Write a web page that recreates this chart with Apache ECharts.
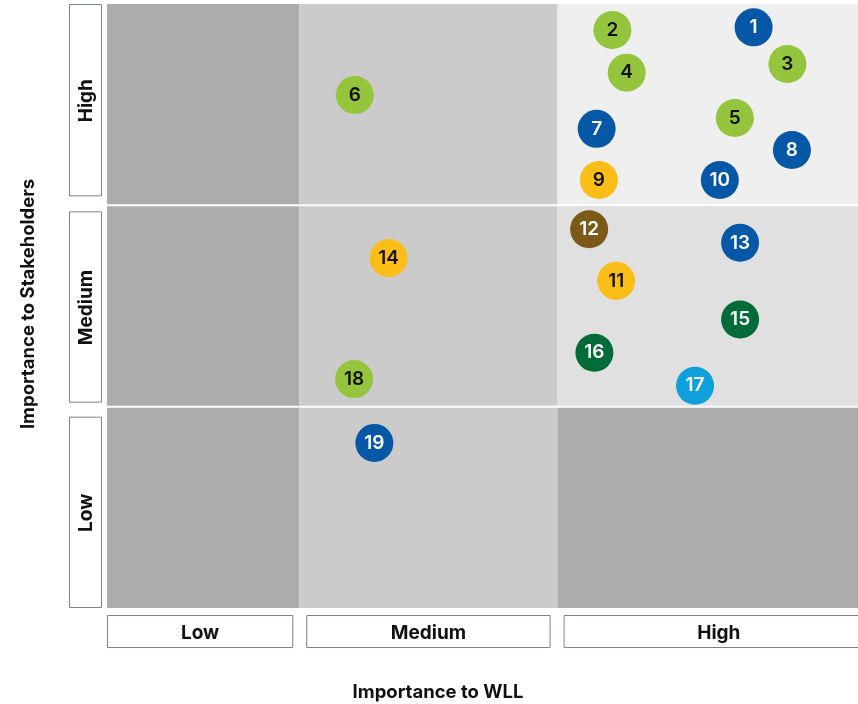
<!DOCTYPE html>
<html>
<head>
<meta charset="utf-8">
<script src="https://cdn.jsdelivr.net/npm/echarts@6/dist/echarts.min.js"></script>
<style>
  html, body { margin: 0; padding: 0; background: #ffffff; }
  #chart { width: 858px; height: 704px; }
</style>
</head>
<body>
<div id="chart"></div>
<script>
// Materiality matrix: importance to WLL (x) against importance to stakeholders (y)

// Level names, shared by both axes (low -> high)
const levels = ['Low', 'Medium', 'High'];
// Band boundaries on each axis (value units)
const xBreaks = [0, 25.6, 60, 100];
const yBreaks = [0, 1, 2, 3];

// Topics
const topicIds = [1, 2, 3, 4, 5, 6, 7, 8, 9, 10, 11, 12, 13, 14, 15, 16, 17, 18, 19];
const wllScore = [86.1, 67.3, 90.6, 69.2, 83.6, 33.0, 65.2, 91.2, 65.5, 81.6, 67.8, 64.2, 84.3, 37.5, 84.3, 64.9, 78.3, 32.9, 35.6];
const stakeScore = [2.884, 2.871, 2.702, 2.659, 2.434, 2.548, 2.380, 2.275, 2.126, 2.126, 1.625, 1.881, 1.814, 1.738, 1.433, 1.268, 1.104, 1.137, 0.820];
const topicGroup = ['blue', 'lime', 'lime', 'lime', 'lime', 'lime', 'blue', 'blue', 'amber', 'blue',
                    'amber', 'brown', 'blue', 'amber', 'forest', 'forest', 'sky', 'lime', 'blue'];

// Group fills and the number colour drawn on them
const groupFill = { blue: '#0657a6', lime: '#95c43d', amber: '#fbbd17', brown: '#7b5916', forest: '#036b37', sky: '#0fa0dc' };
const groupInk = { blue: '#ffffff', lime: '#111111', amber: '#111111', brown: '#ffffff', forest: '#ffffff', sky: '#ffffff' };

// Cell shading [row][col], rows low -> high, cols low -> high
const cellShade = [
  ['#acacac', '#cbcbcb', '#acacac'],
  ['#acacac', '#cbcbcb', '#e0e0e0'],
  ['#acacac', '#cbcbcb', '#efefef']
];

const FONT = 'Inter, Roboto, "Liberation Sans", sans-serif';

const cells = [];
for (let r = 0; r < 3; r++) for (let c = 0; c < 3; c++) cells.push([c, r]);

// Label-box insets (px) from their band edges
const yBoxInset = [[10, 1], [6, 5], [0, 10]];   // [top, bottom] per row
const xBoxInset = [[0, 6], [7, 7], [6, -16]];   // [left, right] per column; last box runs past the edge

const chart = echarts.init(document.getElementById('chart'), null, { renderer: 'canvas' });

chart.setOption({
  animation: false,
  backgroundColor: '#ffffff',
  grid: { left: 107, right: 0, top: 4, bottom: 96 },
  xAxis: { type: 'value', min: 0, max: 100, show: false },
  yAxis: { type: 'value', min: 0, max: 3, show: false },
  graphic: [
    {
      type: 'text', x: 438, y: 692,
      style: { text: 'Importance to WLL', font: 'bold 18.5px ' + FONT, fill: '#111111', align: 'center', verticalAlign: 'middle' }
    },
    {
      type: 'text', x: 28, y: 304, rotation: Math.PI / 2,
      style: { text: 'Importance to Stakeholders', font: 'bold 18.5px ' + FONT, fill: '#111111', align: 'center', verticalAlign: 'middle' }
    }
  ],
  series: [
    {
      // shaded bands
      type: 'custom',
      silent: true,
      z: 1,
      data: cells,
      renderItem: function (params, api) {
        const c = api.value(0), r = api.value(1);
        const tl = api.coord([xBreaks[c], yBreaks[r + 1]]);
        const br = api.coord([xBreaks[c + 1], yBreaks[r]]);
        const top = tl[1] + (r < 2 ? 1 : 0);
        const bottom = br[1] - (r > 0 ? 1 : 0);
        return {
          type: 'rect',
          shape: { x: tl[0], y: top, width: br[0] - tl[0], height: bottom - top },
          style: { fill: cellShade[r][c] }
        };
      }
    },
    {
      // y level boxes
      type: 'custom',
      silent: true,
      clip: false,
      z: 2,
      data: levels.map(function (_, i) { return [i]; }),
      renderItem: function (params, api) {
        const r = api.value(0);
        const top = api.coord([0, yBreaks[r + 1]])[1] + yBoxInset[r][0];
        const bottom = api.coord([0, yBreaks[r]])[1] - yBoxInset[r][1];
        const left = api.coord([0, 0])[0] - 38;
        const w = 32;
        return {
          type: 'group',
          children: [
            { type: 'rect', shape: { x: left + 0.5, y: top + 0.5, width: w, height: bottom - top },
              style: { fill: '#ffffff', stroke: '#74859a', lineWidth: 1 } },
            { type: 'text', x: left + w / 2 + 1, y: (top + bottom) / 2 + 1, rotation: Math.PI / 2,
              style: { text: levels[r], font: 'bold 19px ' + FONT, fill: '#111111', align: 'center', verticalAlign: 'middle' } }
          ]
        };
      }
    },
    {
      // x level boxes
      type: 'custom',
      silent: true,
      clip: false,
      z: 2,
      data: levels.map(function (_, i) { return [i]; }),
      renderItem: function (params, api) {
        const c = api.value(0);
        const left = api.coord([xBreaks[c], 0])[0] + xBoxInset[c][0];
        const right = api.coord([xBreaks[c + 1], 0])[0] - xBoxInset[c][1];
        const top = api.coord([0, 0])[1] + 7;
        const h = 32;
        return {
          type: 'group',
          children: [
            { type: 'rect', shape: { x: left + 0.5, y: top + 0.5, width: right - left - 1, height: h },
              style: { fill: '#ffffff', stroke: '#74859a', lineWidth: 1 } },
            { type: 'text', x: (left + right) / 2, y: top + h / 2 + 2,
              style: { text: levels[c], font: 'bold 19px ' + FONT, fill: '#111111', align: 'center', verticalAlign: 'middle' } }
          ]
        };
      }
    },
    {
      // topics
      type: 'scatter',
      z: 5,
      symbol: 'circle',
      symbolSize: 38,
      data: topicIds.map(function (id, i) {
        const g = topicGroup[i];
        return {
          value: [wllScore[i], stakeScore[i], id],
          itemStyle: { color: groupFill[g], opacity: 1 },
          label: { color: groupInk[g] }
        };
      }),
      label: {
        show: true,
        position: 'inside',
        formatter: function (p) { return String(p.value[2]); },
        fontFamily: FONT,
        fontWeight: 600,
        fontSize: 19
      },
      emphasis: { disabled: true }
    }
  ]
});
</script>
</body>
</html>
